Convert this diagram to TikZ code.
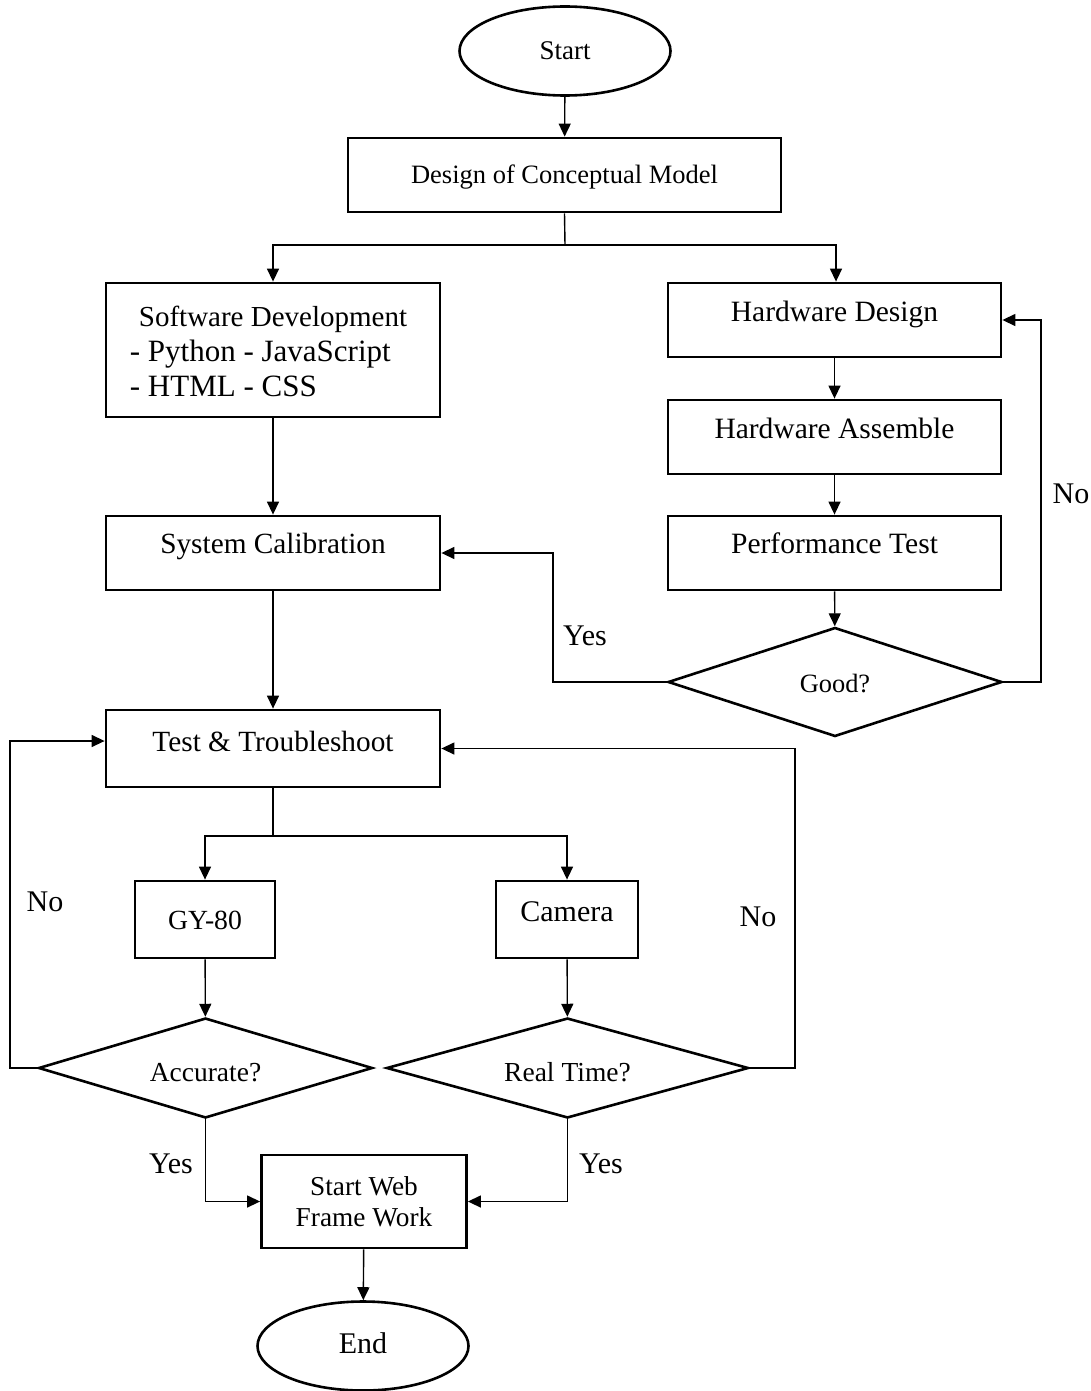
\documentclass[tikz,border=0pt]{standalone}
\usepackage{fontspec}
\setmainfont{Liberation Serif}
\usetikzlibrary{shapes.geometric,arrows.meta}
\tikzset{
  box/.style={draw, line width=2.8pt, rectangle, inner sep=0pt, align=center},
  term/.style={draw, line width=2.6pt, ellipse, inner sep=0pt, minimum width=211pt, minimum height=89pt},
  dec/.style={draw, line width=2.6pt, diamond, aspect=3.3, inner sep=0pt, align=center},
  conn/.style={line width=1.4pt, -{Triangle[length=13pt,width=12pt]}},
  plain/.style={line width=1.4pt},
  lbl/.style={anchor=base, font=\fontsize{30}{34}\selectfont},
  tb/.style={text height=24pt, text depth=#1},
  fs/.style={font=\fontsize{#1}{#1}\selectfont},
}
\begin{document}
\begin{tikzpicture}[x=1pt,y=-1pt]
\useasboundingbox (0,0) rectangle (1091,1391);
% terminals
\node[term, fs=27, tb=6pt] (start) at (565,51) {Start};
\node[term, fs=30, tb=10pt] (end) at (363,1346) {End};
% boxes
\node[box, minimum width=433pt, minimum height=74pt, fs=26.5, tb=6pt] (design) at (564.5,175) {Design of Conceptual Model};
\node[box, minimum width=334pt, minimum height=134pt, text height=63pt, text depth=42pt, font=\fontsize{31}{35}\selectfont] (soft) at (273,350)
  {\begin{tabular}{@{}l@{}}\multicolumn{1}{@{}c@{}}{\fontsize{29}{35}\selectfont Software Development}\\\hspace*{-9pt}- Python - JavaScript\\\hspace*{-9pt}- HTML - CSS\end{tabular}};
\node[box, minimum width=333pt, minimum height=74pt, fs=29.5, tb=22pt] (hwd) at (834.5,320) {Hardware Design};
\node[box, minimum width=333pt, minimum height=74pt, fs=29.5, tb=22pt] (hwa) at (834.5,437) {Hardware Assemble};
\node[box, minimum width=333pt, minimum height=74pt, fs=29.5, tb=24pt] (perf) at (834.5,553) {Performance Test};
\node[box, minimum width=334pt, minimum height=74pt, fs=29.3, tb=24pt] (cal) at (273,553) {System Calibration};
\node[box, minimum width=334pt, minimum height=77pt, fs=29.3, tb=18pt] (test) at (273,748.5) {Test \& Troubleshoot};
\node[box, minimum width=140pt, minimum height=77pt, fs=27.7, tb=4pt] (gy) at (205,919.5) {GY-80};
\node[box, minimum width=142pt, minimum height=77pt, fs=30, tb=20pt] (cam) at (567,919.5) {Camera};
\node[box, minimum width=205pt, minimum height=93pt, font=\fontsize{27.3}{31.5}\selectfont] (web) at (364,1201.5) {Start Web\\Frame Work};
% decisions
\node[dec, minimum width=334pt, minimum height=109pt, fs=26.4, text height=24pt, text depth=2.6pt] (good) at (835,682) {Good?};
\node[dec, minimum width=334pt, minimum height=100pt, fs=27.5, text height=30pt, text depth=2.6pt] (acc) at (205.5,1068) {Accurate?};
\node[dec, minimum width=362pt, minimum height=100pt, fs=27.5, text height=30pt, text depth=2.6pt] (rt) at (567.5,1068) {Real Time?};
% helper coordinates
\coordinate (split1) at (565,245);
\coordinate (split2) at (273,836);
\coordinate (yesA) at (553,682);
\coordinate (noR) at (1041,682);
\coordinate (noL) at (10,1068);
\coordinate (noRT) at (795,1068);
% connectors
\draw[conn] (start) -- (design);
\draw[plain] (design.south) -- (split1);
\draw[conn] (split1) -| (soft.north);
\draw[conn] (split1) -| ([xshift=1.5pt]hwd.north);
\draw[conn] (hwd) -- (hwa);
\draw[conn] (hwa) -- (perf);
\draw[conn] (perf) -- (good);
\draw[conn] (good.west) -- (yesA) |- (cal.east);
\draw[conn] (good.east) -- (noR) |- (hwd.east);
\draw[conn] (soft) -- (cal);
\draw[conn] (cal) -- (test);
\draw[plain] (test.south) -- (split2);
\draw[conn] (split2) -| (gy.north);
\draw[conn] (split2) -| (cam.north);
\draw[conn] (gy) -- (acc);
\draw[conn] (cam) -- (rt);
\draw[conn] (acc.west) -- (noL) |- ([yshift=7.5pt]test.west);
\draw[conn] (rt.east) -- (noRT) |- (test.east);
\draw[conn] (acc.south) |- (web.west);
\draw[conn] (rt.south) |- (web.east);
\draw[conn] (web) -- (end);
% labels
\node[lbl] (lyes1) at (585,645) {Yes};
\node[lbl] (lno1) at (1071,503) {No};
\node[lbl] (lno2) at (45,911.7) {No};
\node[lbl] (lno3) at (758,926.7) {No};
\node[lbl] (lyes2) at (171,1173) {Yes};
\node[lbl] (lyes3) at (601,1173) {Yes};
\end{tikzpicture}
\end{document}
